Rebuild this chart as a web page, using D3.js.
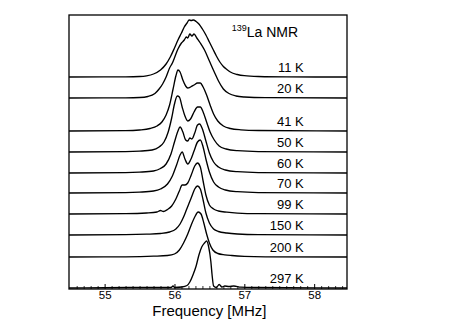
<!DOCTYPE html>
<html lang="en">
<head>
  <meta charset="UTF-8">
  <title>139La NMR spectra</title>
  <script src="https://d3js.org/d3.v7.min.js"></script>
  <style>
    body { margin: 0; background: #fff; font-family: "Liberation Sans", Arial, sans-serif; }
    .spec { fill: none; stroke: #000; stroke-width: 1.35; stroke-linejoin: round; }
    .temp { font-size: 13px; text-anchor: end; }
  </style>
</head>
<body>
  <svg width="463" height="323"></svg>
  <script>
    // temperatures (top to bottom) and vertical offsets of each trace
    const temps = ["11 K", "20 K", "41 K", "50 K", "60 K", "70 K", "99 K", "150 K", "200 K", "297 K"];
    const offsets = [212, 191, 158, 137, 116, 96, 75, 54, 32, 1];
    const majorTicks = [55, 56, 57, 58];

    // spectra: [frequency MHz, intensity above baseline]
    const s11 = [[54.49,0],[55.3,0.2],[55.5,0.5],[55.6,1.2],[55.7,3],[55.8,7],[55.88,13],[55.94,20],[56.0,29],[56.05,37],[56.1,44],[56.14,50],[56.18,54],[56.21,57],[56.24,56.5],[56.27,57],[56.31,55.5],[56.35,53],[56.4,48],[56.45,42],[56.5,35],[56.55,28],[56.6,21],[56.65,15],[56.7,10.5],[56.75,7.5],[56.8,5],[56.9,2.5],[57.0,1.3],[57.2,0.5],[57.6,0.1],[58.47,0]];
    const s20 = [[54.49,0],[55.3,0.2],[55.5,0.5],[55.62,1.5],[55.72,4.5],[55.78,9],[55.83,14],[55.88,21],[55.93,30],[55.97,35],[56.01,42],[56.05,49],[56.1,55],[56.14,58],[56.17,61],[56.19,60],[56.22,64],[56.25,62],[56.28,64],[56.32,60],[56.37,55],[56.43,48],[56.5,37],[56.57,26],[56.63,17],[56.7,9],[56.78,4.5],[56.88,2],[57.0,1],[57.3,0.3],[58.47,0]];
    const s41 = [[54.49,0],[55.3,0.3],[55.5,1],[55.65,2.5],[55.75,5],[55.82,9],[55.88,16],[55.93,26],[55.98,42],[56.02,55],[56.05,61],[56.08,59],[56.12,51],[56.16,45],[56.19,43],[56.23,44],[56.28,46],[56.33,48],[56.37,48],[56.41,44],[56.46,36],[56.51,26],[56.56,17],[56.62,10],[56.7,5],[56.8,2.5],[56.95,1.2],[57.2,0.5],[58.47,0]];
    const s50 = [[54.49,0],[55.3,0.3],[55.5,0.8],[55.68,2],[55.78,5],[55.85,10],[55.91,20],[55.96,34],[56.0,48],[56.04,56],[56.07,55],[56.11,45],[56.15,36],[56.19,31],[56.23,33],[56.28,40],[56.33,45],[56.37,45],[56.41,40],[56.46,30],[56.51,20],[56.57,12],[56.64,6],[56.74,3],[56.9,1.3],[57.2,0.4],[58.47,0]];
    const s60 = [[54.49,0],[55.3,0.3],[55.5,0.8],[55.7,2],[55.8,4.5],[55.88,9],[55.95,19],[56.0,31],[56.05,42],[56.08,46],[56.12,41],[56.16,33],[56.19,32],[56.22,35],[56.25,34],[56.29,40],[56.33,48],[56.36,49],[56.4,44],[56.45,32],[56.5,20],[56.56,11],[56.63,6],[56.73,3],[56.9,1.3],[57.2,0.4],[58.47,0]];
    const s70 = [[54.49,0],[55.3,0.3],[55.5,0.8],[55.7,2],[55.8,4],[55.9,9],[55.97,17],[56.03,28],[56.08,38],[56.11,41],[56.15,34],[56.19,29],[56.23,33],[56.28,42],[56.33,51],[56.37,53],[56.41,46],[56.45,34],[56.5,21],[56.56,11],[56.63,6],[56.73,3],[56.9,1.3],[57.2,0.4],[58.47,0]];
    const s99 = [[54.49,0],[55.3,0.3],[55.6,1],[55.75,2],[55.8,3.5],[55.84,2.5],[55.9,4.5],[55.96,8],[56.02,15],[56.07,23],[56.11,29],[56.15,29],[56.19,31],[56.24,39],[56.29,48],[56.33,51],[56.37,47],[56.41,33],[56.45,19],[56.5,9],[56.56,5],[56.63,3],[56.75,1.8],[56.9,0.9],[57.2,0.3],[58.47,0]];
    const s150 = [[54.49,0],[55.3,0.3],[55.6,0.8],[55.8,1.5],[55.93,3],[56.02,6],[56.08,11],[56.13,18],[56.17,25],[56.21,32],[56.25,39],[56.29,46],[56.33,49],[56.37,46],[56.41,35],[56.45,22],[56.5,12],[56.56,6],[56.63,3.5],[56.75,2],[56.9,1],[57.2,0.3],[58.47,0]];
    const s200 = [[54.49,0],[55.3,0.2],[55.7,0.8],[55.9,1.5],[56.0,3],[56.07,7],[56.13,14],[56.19,23],[56.24,32],[56.29,40],[56.34,45],[56.38,43],[56.42,34],[56.46,23],[56.5,14],[56.55,7],[56.62,3.5],[56.72,2.2],[56.82,1.5],[57.0,0.7],[57.3,0.2],[58.47,0]];
    const s297 = [[54.49,0],[55.0,0.3],[55.5,0.5],[55.95,0.5],[55.98,2],[56.0,0.5],[56.1,1],[56.18,2.5],[56.22,6],[56.27,14],[56.31,22],[56.35,33],[56.39,41],[56.43,45],[56.46,47],[56.49,41],[56.52,27],[56.54,12],[56.56,2],[56.6,0.5],[56.64,3.5],[56.68,1],[56.72,2],[56.78,1.5],[56.85,2],[56.95,0.8],[57.2,0.5],[58.47,0]];
    const spectra = [s11, s20, s41, s50, s60, s70, s99, s150, s200, s297];

    const margin = { top: 15, right: 116, bottom: 34, left: 69 };
    const W = 463, H = 323;
    const width = W - margin.left - margin.right;
    const height = H - margin.top - margin.bottom;

    const svg = d3.select("svg");
    const g = svg.append("g").attr("transform", `translate(${margin.left},${margin.top})`);

    const x = d3.scaleLinear().domain([54.49, 58.47]).range([0, width]);
    const y = d3.scaleLinear().domain([0, height]).range([height, 0]);

    const line = d3.line()
      .x(d => x(d[0]))
      .y(d => y(d[1]))
      .curve(d3.curveMonotoneX);

    g.append("clipPath").attr("id", "plotclip")
      .append("rect").attr("width", width).attr("height", height);

    // traces
    g.append("g").attr("clip-path", "url(#plotclip)")
      .selectAll("path")
      .data(spectra)
      .join("path")
      .attr("class", "spec")
      .attr("d", (d, i) => line(d.map(p => [p[0], p[1] + offsets[i]])));

    // temperature labels
    g.selectAll(".temp")
      .data(temps)
      .join("text")
      .attr("class", "temp")
      .attr("x", x(57.85))
      .attr("y", (d, i) => y(offsets[i]) - 5)
      .text(d => d);

    // title
    const title = g.append("text")
      .attr("x", x(56.82))
      .attr("y", 22)
      .attr("font-size", 14);
    title.append("tspan").attr("font-size", 9).attr("dy", -6).text("139");
    title.append("tspan").attr("dy", 6).text("La NMR");

    // bottom axis: inward ticks, minor every 0.1 MHz
    const minor = d3.range(546, 585).map(v => v / 10).filter(v => !majorTicks.includes(v));
    g.append("g")
      .attr("transform", `translate(0,${height})`)
      .call(d3.axisBottom(x).tickValues(minor).tickSize(-3).tickFormat(""))
      .call(a => a.select(".domain").remove())
      .selectAll("line").attr("stroke-width", 0.8);

    const xAxis = g.append("g")
      .attr("transform", `translate(0,${height})`)
      .call(d3.axisBottom(x).tickValues(majorTicks).tickSize(-5).tickPadding(2).tickFormat(d3.format("d")));
    xAxis.select(".domain").remove();
    xAxis.selectAll("text").attr("font-size", 11.5).attr("font-family", "Liberation Sans, Arial, sans-serif");

    // frame
    g.append("rect")
      .attr("width", width).attr("height", height)
      .attr("fill", "none").attr("stroke", "#000").attr("stroke-width", 1.3);

    // axis title
    g.append("text")
      .attr("x", x(56.5))
      .attr("y", height + 27)
      .attr("text-anchor", "middle")
      .attr("font-size", 15)
      .text("Frequency [MHz]");
  </script>
</body>
</html>
